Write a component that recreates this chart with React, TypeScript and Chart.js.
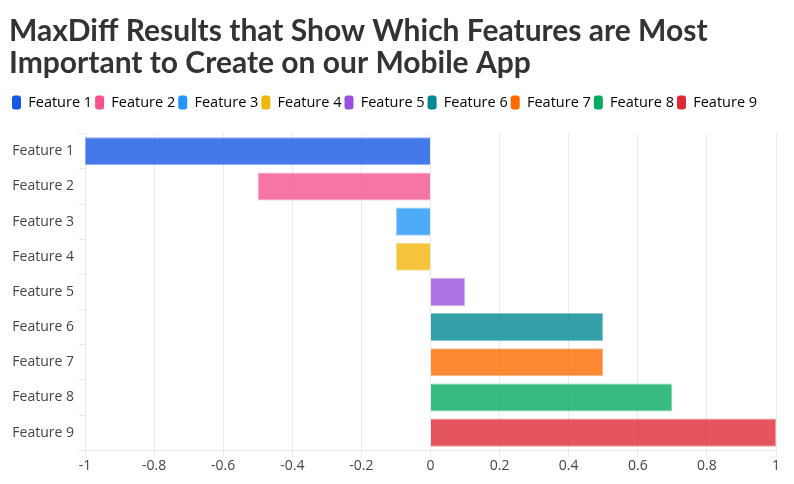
import React, { useEffect, useRef } from "react";
import { Chart, registerables } from "chart.js";

Chart.register(...registerables);

const categories = ["Feature 1", "Feature 2", "Feature 3", "Feature 4", "Feature 5", "Feature 6", "Feature 7", "Feature 8", "Feature 9"];
const scores = [-1, -0.5, -0.1, -0.1, 0.1, 0.5, 0.5, 0.7, 1];
const colors = ["#1558E3", "#F5528E", "#2196F8", "#F2B50A", "#9A4EDC", "#008894", "#FF6A00", "#05AA63", "#DD2A36"];
const titleLines = ["MaxDiff Results that Show Which Features are Most", "Important to Create on our Mobile App"];

function withAlpha(hex: string, a: number) {
  const n = parseInt(hex.slice(1), 16);
  return `rgba(${(n >> 16) & 255},${(n >> 8) & 255},${n & 255},${a})`;
}

const legendGap = {
  id: "legendGap",
  beforeLayout(chart: any) {
    const lg = chart.legend;
    if (lg && !lg.__patched) {
      const orig = lg.fit;
      lg.fit = function () {
        orig.call(this);
        this.height += 14;
      };
      lg.__patched = true;
    }
  },
};

export default function App() {
  const ref = useRef<HTMLCanvasElement>(null);
  useEffect(() => {
    if (!ref.current) return;
    const titleFont = "Lato, 'Open Sans', sans-serif";
    const font = "'Open Sans', 'Noto Sans', sans-serif";
    const chart = new Chart(ref.current, {
      type: "bar",
      data: {
        labels: categories,
        datasets: [
          {
            data: scores,
            backgroundColor: colors.map((c) => withAlpha(c, 0.8)),
            borderColor: colors.map((c) => withAlpha(c, 0.45)),
            borderWidth: 1,
            categoryPercentage: 1,
            barPercentage: 0.8,
          },
        ],
      },
      plugins: [legendGap],
      options: {
        indexAxis: "y",
        animation: false,
        responsive: true,
        maintainAspectRatio: false,
        layout: { padding: { left: 9, right: 4, top: 15, bottom: 10 } },
        plugins: {
          title: {
            display: true,
            text: titleLines,
            align: "start",
            color: "#333333",
            font: { family: titleFont, size: 30, weight: "bold", lineHeight: 1.07 },
            padding: { top: 0, bottom: 13 },
          },
          legend: {
            display: true,
            position: "top",
            align: "start",
            labels: {
              boxWidth: 9,
              boxHeight: 14,
              useBorderRadius: true,
              borderRadius: 3,
              color: "#444444",
              font: { family: font, size: 14.5 },
              padding: 3,
              generateLabels: () =>
                categories.map((c, i) => ({
                  text: c,
                  fillStyle: colors[i],
                  strokeStyle: colors[i],
                  lineWidth: 0,
                  borderRadius: 3,
                  hidden: false,
                  index: i,
                  datasetIndex: 0,
                })),
            },
            onClick: () => {},
          },
          tooltip: { enabled: false },
        },
        scales: {
          x: {
            min: -1,
            max: 1,
            afterFit: (s: any) => {
              s.paddingRight = 18;
            },
            ticks: {
              stepSize: 0.2,
              color: "#444444",
              font: { family: font, size: 14 },
              padding: 0,
              callback: (v: any) => String(Number(Number(v).toFixed(1))),
            },
            grid: { color: "#EBEBEB", tickLength: 7 },
            border: { color: "#EBEBEB" },
          },
          y: {
            afterFit: (s: any) => {
              s.width = 76;
            },
            ticks: { color: "#444444", font: { family: font, size: 14 }, padding: 4 },
            grid: { drawOnChartArea: false, color: "#EBEBEB", tickLength: 7 },
            border: { color: "#EBEBEB" },
          },
        },
      },
    });
    return () => chart.destroy();
  }, []);
  return (
    <div style={{ position: "fixed", left: 0, top: 0, width: 794, height: 484, background: "#fff" }}>
      <canvas ref={ref} />
    </div>
  );
}
